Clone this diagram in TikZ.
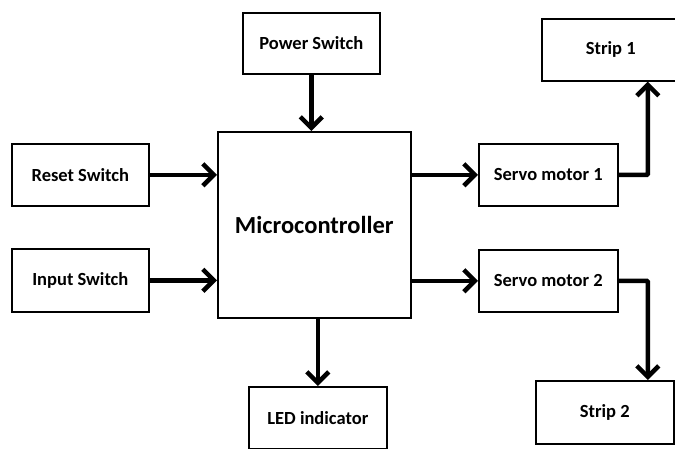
\documentclass[tikz,border=0pt]{standalone}
\usepackage{fontspec}
\setmainfont{Carlito}
\usetikzlibrary{arrows.meta}
\begin{document}
\begin{tikzpicture}[x=1pt,y=-1pt,
  blk/.style={draw, line width=1.6pt, rectangle, anchor=north west, inner sep=0pt,
    font=\fontsize{18.5}{21}\selectfont\bfseries},
  arr/.style={line width=4.5pt, -{Straight Barb[length=11pt,width=22pt,line width=4.5pt]}}]
\useasboundingbox (0,0) rectangle (675,448);
\clip (0,0) rectangle (675,448);
\node[blk, minimum width=137pt, minimum height=61pt] (pw) at (242,12) {Power Switch};
\node[blk, minimum width=193pt, minimum height=186pt, font=\fontsize{24.5}{28}\selectfont\bfseries] (mc) at (217,131) {Microcontroller};
\node[blk, minimum width=137pt, minimum height=62pt] (rs) at (11,143) {Reset Switch};
\node[blk, minimum width=137pt, minimum height=63pt] (is) at (11,248) {Input Switch};
\node[blk, minimum width=138pt, minimum height=62pt] (led) at (248,386) {LED indicator};
\node[blk, minimum width=139pt, minimum height=62pt] (s1) at (478,143) {Servo motor 1};
\node[blk, minimum width=139pt, minimum height=62pt] (s2) at (478,249) {Servo motor 2};
\node[blk, minimum width=138pt, minimum height=62pt] (st1) at (541,18) {Strip 1};
\node[blk, minimum width=138pt, minimum height=63pt] (st2) at (535,380) {Strip 2};
\draw[arr] (pw.south) -- (pw.south |- mc.north);
\draw[arr] (rs.east) -- (rs.east -| mc.west);
\draw[arr] (is.east) -- (is.east -| mc.west);
\draw[arr] (led.north |- mc.south) -- (led.north);
\draw[arr] (s1.west -| mc.east) -- (s1.west);
\draw[arr] (s2.west -| mc.east) -- (s2.west);
\draw[arr, rounded corners=1pt] (s1.east) -| ([xshift=37pt]st1.south);
\draw[arr, rounded corners=1pt] (s2.east) -| ([xshift=43pt]st2.north);
\end{tikzpicture}
\end{document}
